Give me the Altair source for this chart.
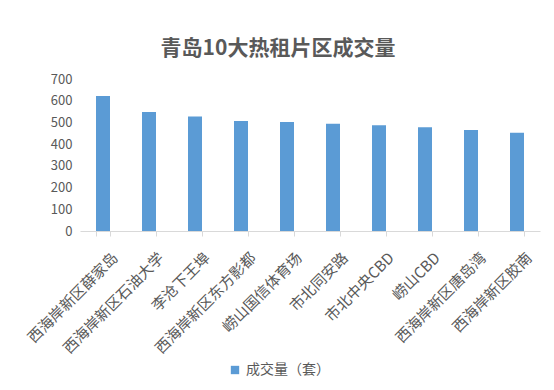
import altair as alt
import pandas as pd

categories = ["西海岸新区薛家岛", "西海岸新区石油大学", "李沧下王埠", "西海岸新区东方影都",
              "崂山国信体育场", "市北同安路", "市北中央CBD", "崂山CBD",
              "西海岸新区唐岛湾", "西海岸新区胶南"]
values = [622, 548, 527, 507, 502, 494, 487, 478, 465, 453]
series = "成交量（套）"
y_ticks = [0, 100, 200, 300, 400, 500, 600, 700]

df = pd.DataFrame({"片区": categories, "成交量": values, "系列": [series] * len(categories)})

font = "Noto Sans CJK SC"

chart = alt.Chart(df).mark_bar(size=14).encode(
    x=alt.X("片区:N", sort=categories, title=None,
            scale=alt.Scale(paddingInner=0.7, paddingOuter=0.35),
            axis=alt.Axis(labelAngle=-45, labelAlign="right", labelBaseline="top",
                          labelFontSize=15, labelColor="#595959", labelFont=font,
                          domainColor="#d9d9d9", tickColor="#d9d9d9", tickSize=5,
                          tickBand="extent", labelPadding=14, labelOffset=7)),
    y=alt.Y("成交量:Q", title=None, scale=alt.Scale(domain=[0, 700], nice=False),
            axis=alt.Axis(values=y_ticks, grid=False, domain=False, ticks=False,
                          labelFontSize=13, labelColor="#595959", labelFont=font,
                          labelPadding=8)),
    color=alt.Color("系列:N", scale=alt.Scale(range=["#5B9BD5"]),
                    legend=alt.Legend(title=None, orient="none", legendX=148, legendY=284,
                                      symbolType="square", symbolSize=70,
                                      labelFontSize=14, labelColor="#595959", labelFont=font,
                                      symbolStrokeWidth=0)),
).properties(
    width=460, height=152,
    title=alt.TitleParams("青岛10大热租片区成交量", fontSize=21, font=font, fontWeight="bold",
                          color="#595959", anchor="middle", dx=-32, offset=14),
    autosize=alt.AutoSizeParams(type="none"),
    padding={"left": 72, "top": 71, "right": 6, "bottom": 151},
).configure_view(stroke=None)

chart.save("out.html", embed_options={"renderer": "svg", "actions": False})
